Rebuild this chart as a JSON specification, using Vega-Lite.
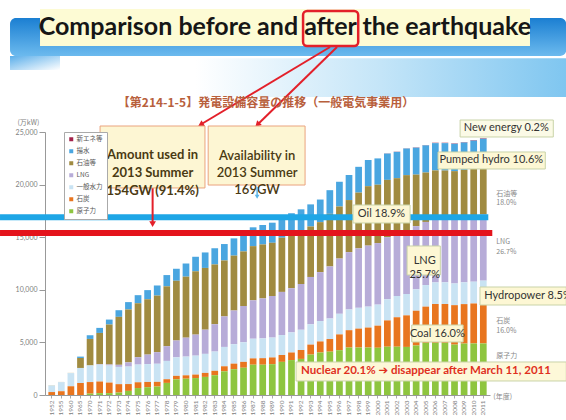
{
  "$schema": "https://vega.github.io/schema/vega-lite/v6.json",
  "width": 445,
  "height": 263,
  "autosize": {"type": "none"},
  "padding": {"left": 45, "top": 132, "right": 76, "bottom": 25},
  "background": "#ffffff",
  "config": {"view": {"stroke": null}, "font": "Lato"},
  "data": {"values": [{}]},
  "datasets": {
    "sources": [
      {"電源": "原子力", "積み順": 1},
      {"電源": "石炭", "積み順": 2},
      {"電源": "一般水力", "積み順": 3},
      {"電源": "LNG", "積み順": 4},
      {"電源": "石油等", "積み順": 5},
      {"電源": "揚水", "積み順": 6},
      {"電源": "新エネ等", "積み順": 7}
    ],
    "capacity": [
      {"年度": "1952", "原子力": 0, "石炭": 280, "一般水力": 620, "LNG": 0, "石油等": 20, "揚水": 0, "新エネ等": 0},
      {"年度": "1955", "原子力": 0, "石炭": 360, "一般水力": 860, "LNG": 0, "石油等": 20, "揚水": 0, "新エネ等": 0},
      {"年度": "1960", "原子力": 0, "石炭": 830, "一般水力": 1250, "LNG": 0, "石油等": 20, "揚水": 0, "新エネ等": 0},
      {"年度": "1965", "原子力": 0, "石炭": 1140, "一般水力": 1430, "LNG": 0, "石油等": 950, "揚水": 130, "新エネ等": 0},
      {"年度": "1970", "原子力": 130, "石炭": 1100, "一般水力": 1580, "LNG": 0, "石油等": 2520, "揚水": 350, "新エネ等": 0},
      {"年度": "1971", "原子力": 180, "石炭": 1100, "一般水力": 1600, "LNG": 50, "石油等": 2970, "揚水": 480, "新エネ等": 0},
      {"年度": "1972", "原子力": 180, "石炭": 1000, "一般水力": 1620, "LNG": 100, "石油等": 3800, "揚水": 470, "新エネ等": 0},
      {"年度": "1973", "原子力": 230, "石炭": 800, "一般水力": 1640, "LNG": 200, "石油等": 4560, "揚水": 630, "新エネ等": 0},
      {"年度": "1974", "原子力": 390, "石炭": 650, "一般水力": 1660, "LNG": 400, "石油等": 5030, "揚水": 700, "新エネ等": 0},
      {"年度": "1975", "原子力": 660, "石炭": 550, "一般水力": 1680, "LNG": 700, "石油等": 5130, "揚水": 770, "新エネ等": 0},
      {"年度": "1976", "原子力": 740, "石炭": 500, "一般水力": 1700, "LNG": 900, "石油等": 5260, "揚水": 870, "新エネ等": 0},
      {"年度": "1977", "原子力": 800, "石炭": 450, "一般水力": 1720, "LNG": 1100, "石油等": 5380, "揚水": 960, "新エネ等": 0},
      {"年度": "1978", "原子力": 1150, "石炭": 350, "一般水力": 1740, "LNG": 1400, "石油等": 5690, "揚水": 1070, "新エネ等": 0},
      {"年度": "1979", "原子力": 1490, "石炭": 330, "一般水力": 1760, "LNG": 1600, "石油等": 5680, "揚水": 1140, "新エネ等": 0},
      {"年度": "1980", "原子力": 1550, "石炭": 320, "一般水力": 1780, "LNG": 1800, "石油等": 5800, "揚水": 1250, "新エネ等": 0},
      {"年度": "1981", "原子力": 1610, "石炭": 330, "一般水力": 1800, "LNG": 2000, "石油等": 6020, "揚水": 1380, "新エネ等": 0},
      {"年度": "1982", "原子力": 1720, "石炭": 380, "一般水力": 1810, "LNG": 2300, "石油等": 5870, "揚水": 1470, "新エネ等": 0},
      {"年度": "1983", "原子力": 1880, "石炭": 420, "一般水力": 1830, "LNG": 2600, "石油等": 5680, "揚水": 1540, "新エネ等": 0},
      {"年度": "1984", "原子力": 2250, "石炭": 480, "一般水力": 1840, "LNG": 2900, "石油等": 5320, "揚水": 1560, "新エネ等": 0},
      {"年度": "1985", "原子力": 2450, "石炭": 530, "一般水力": 1850, "LNG": 3200, "石油等": 5220, "揚水": 1640, "新エネ等": 0},
      {"年度": "1986", "原子力": 2590, "石炭": 560, "一般水力": 1860, "LNG": 3450, "石油等": 5190, "揚水": 1720, "新エネ等": 0},
      {"年度": "1987", "原子力": 2880, "石炭": 600, "一般水力": 1870, "LNG": 3650, "石油等": 5150, "揚水": 1790, "新エネ等": 0},
      {"年度": "1988", "原子力": 2880, "石炭": 620, "一般水力": 1880, "LNG": 3800, "石油等": 5130, "揚水": 1850, "新エネ等": 0},
      {"年度": "1989", "原子力": 2930, "石炭": 640, "一般水力": 1890, "LNG": 3950, "石油等": 5060, "揚水": 1910, "新エネ等": 0},
      {"年度": "1990", "原子力": 3150, "石炭": 650, "一般水力": 1900, "LNG": 4100, "石油等": 5150, "揚水": 1950, "新エネ等": 0},
      {"年度": "1991", "原子力": 3320, "石炭": 720, "一般水力": 1910, "LNG": 4200, "石油等": 5130, "揚水": 2000, "新エネ等": 0},
      {"年度": "1992", "原子力": 3430, "石炭": 850, "一般水力": 1920, "LNG": 4350, "石油等": 5050, "揚水": 2050, "新エネ等": 0},
      {"年度": "1993", "原子力": 3840, "石炭": 950, "一般水力": 1930, "LNG": 4500, "石油等": 4800, "揚水": 2100, "新エネ等": 0},
      {"年度": "1994", "原子力": 4040, "石炭": 1050, "一般水力": 1940, "LNG": 4650, "石油等": 4750, "揚水": 2150, "新エネ等": 0},
      {"年度": "1995", "原子力": 4120, "石炭": 1200, "一般水力": 1950, "LNG": 4950, "石油等": 5000, "揚水": 2250, "新エネ等": 0},
      {"年度": "1996", "原子力": 4260, "石炭": 1500, "一般水力": 1960, "LNG": 5250, "石油等": 4950, "揚水": 2350, "新エネ等": 0},
      {"年度": "1997", "原子力": 4510, "石炭": 1650, "一般水力": 1970, "LNG": 5450, "石油等": 4950, "揚水": 2380, "新エネ等": 0},
      {"年度": "1998", "原子力": 4510, "石炭": 1800, "一般水力": 1980, "LNG": 5650, "石油等": 5300, "揚水": 2450, "新エネ等": 0},
      {"年度": "1999", "原子力": 4510, "石炭": 1900, "一般水力": 1990, "LNG": 5800, "石油等": 5650, "揚水": 2490, "新エネ等": 0},
      {"年度": "2000", "原子力": 4490, "石炭": 2100, "一般水力": 2000, "LNG": 5850, "石油等": 5550, "揚水": 2500, "新エネ等": 0},
      {"年度": "2001", "原子力": 4590, "石炭": 2500, "一般水力": 2010, "LNG": 5900, "石油等": 5450, "揚水": 2500, "新エネ等": 20},
      {"年度": "2002", "原子力": 4590, "石炭": 2800, "一般水力": 2020, "LNG": 5900, "石油等": 5300, "揚水": 2500, "新エネ等": 20},
      {"年度": "2003", "原子力": 4570, "石炭": 3000, "一般水力": 2030, "LNG": 5950, "石油等": 5350, "揚水": 2530, "新エネ等": 20},
      {"年度": "2004", "原子力": 4710, "石炭": 3300, "一般水力": 2040, "LNG": 6000, "石油等": 4900, "揚水": 2560, "新エネ等": 30},
      {"年度": "2005", "原子力": 4950, "石炭": 3450, "一般水力": 2050, "LNG": 6000, "石油等": 4700, "揚水": 2580, "新エネ等": 30},
      {"年度": "2006", "原子力": 4950, "石炭": 3700, "一般水力": 2050, "LNG": 6050, "石油等": 4600, "揚水": 2590, "新エネ等": 40},
      {"年度": "2007", "原子力": 4950, "石炭": 3700, "一般水力": 2060, "LNG": 6100, "石油等": 4530, "揚水": 2600, "新エネ等": 40},
      {"年度": "2008", "原子力": 4790, "石炭": 3750, "一般水力": 2060, "LNG": 6150, "石油等": 4530, "揚水": 2600, "新エネ等": 40},
      {"年度": "2009", "原子力": 4890, "石炭": 3750, "一般水力": 2070, "LNG": 6200, "石油等": 4490, "揚水": 2600, "新エネ等": 40},
      {"年度": "2010", "原子力": 4900, "石炭": 3800, "一般水力": 2070, "LNG": 6250, "石油等": 4570, "揚水": 2590, "新エネ等": 50},
      {"年度": "2011", "原子力": 4900, "石炭": 3900, "一般水力": 2070, "LNG": 6290, "石油等": 4610, "揚水": 2590, "新エネ等": 50}
    ]
  },
  "layer": [
    {
      "mark": {"type": "rect", "cornerRadius": 6, "xOffset": -41.7, "x2Offset": 83,
        "fill": {"gradient": "linear", "x1": 0, "y1": 0, "x2": 0, "y2": 1,
          "stops": [{"offset": 0, "color": "#1b7fd2"}, {"offset": 1, "color": "#6cbaee"}]}},
      "encoding": {
        "x": {"datum": "1952", "type": "ordinal", "bandPosition": 0.5},
        "x2": {"datum": "2011", "bandPosition": 0.5},
        "y": {"datum": 35838, "type": "quantitative"},
        "y2": {"datum": 32225}
      }
    },
    {
      "mark": {"type": "rect", "xOffset": -41.7, "x2Offset": 8.3,
        "fill": {"gradient": "linear", "x1": 0, "y1": 0, "x2": 1, "y2": 1,
          "stops": [{"offset": 0, "color": "#5aaeea"}, {"offset": 1, "color": "#ffffff"}]}},
      "encoding": {
        "x": {"datum": "1952", "type": "ordinal", "bandPosition": 0.5},
        "x2": {"datum": "1952", "bandPosition": 0.5},
        "y": {"datum": 32225, "type": "quantitative"},
        "y2": {"datum": 30894}
      }
    },
    {
      "mark": {"type": "rect", "x2Offset": 83,
        "fill": {"gradient": "linear", "x1": 0, "y1": 0, "x2": 1, "y2": 0,
          "stops": [{"offset": 0, "color": "#ffffff"}, {"offset": 0.5, "color": "#c4e5f8"}, {"offset": 1, "color": "#7fc6f0"}]}},
      "encoding": {
        "x": {"datum": "1981", "type": "ordinal", "bandPosition": 0.5},
        "x2": {"datum": "2011", "bandPosition": 0.5},
        "y": {"datum": 32000, "type": "quantitative"},
        "y2": {"datum": 28328}
      }
    },
    {
      "mark": {"type": "rect", "fill": "#fdfbd4", "xOffset": -11.7, "x2Offset": 46.7},
      "encoding": {
        "x": {"datum": "1952", "type": "ordinal", "bandPosition": 0.5},
        "x2": {"datum": "2011", "bandPosition": 0.5},
        "y": {"datum": 36693, "type": "quantitative"},
        "y2": {"datum": 33176}
      }
    },
    {
      "mark": {"type": "text", "text": "Comparison before and after the earthquake", "font": "Lato",
        "fontWeight": "bold", "fontSize": 25, "fill": "#161616", "align": "center", "baseline": "middle", "dx": 3},
      "encoding": {
        "x": {"datum": "1990", "type": "ordinal"},
        "y": {"datum": 35000, "type": "quantitative"}
      }
    },
    {
      "mark": {"type": "rect", "fillOpacity": 0, "stroke": "#e3202a", "strokeWidth": 2.5, "cornerRadius": 4,
        "xOffset": 2, "x2Offset": -10},
      "encoding": {
        "x": {"datum": "1992", "type": "ordinal", "bandPosition": 0.5},
        "x2": {"datum": "1999", "bandPosition": 0.5},
        "y": {"datum": 36503, "type": "quantitative"},
        "y2": {"datum": 33176}
      }
    },
    {
      "mark": {"type": "rule", "stroke": "#e3202a", "strokeWidth": 2, "xOffset": 0.2, "x2Offset": 6},
      "encoding": {
        "x": {"datum": "1995", "type": "ordinal", "bandPosition": 0.5},
        "x2": {"datum": "1981", "bandPosition": 0.5},
        "y": {"datum": 33081, "type": "quantitative"},
        "y2": {"datum": 25760}
      }
    },
    {
      "mark": {"type": "rule", "stroke": "#e3202a", "strokeWidth": 2, "xOffset": -2.4, "x2Offset": 5},
      "encoding": {
        "x": {"datum": "1996", "type": "ordinal", "bandPosition": 0.5},
        "x2": {"datum": "1987", "bandPosition": 0.5},
        "y": {"datum": 33081, "type": "quantitative"},
        "y2": {"datum": 25760}
      }
    },
    {
      "mark": {"type": "point", "shape": "triangle", "angle": 239, "filled": true, "size": 45, "color": "#e3202a", "opacity": 1, "xOffset": 6},
      "encoding": {
        "x": {"datum": "1981", "type": "ordinal"},
        "y": {"datum": 25760, "type": "quantitative"}
      }
    },
    {
      "mark": {"type": "point", "shape": "triangle", "angle": 226, "filled": true, "size": 45, "color": "#e3202a", "opacity": 1, "xOffset": 5},
      "encoding": {
        "x": {"datum": "1987", "type": "ordinal"},
        "y": {"datum": 25760, "type": "quantitative"}
      }
    },
    {
      "mark": {"type": "text", "text": "【第214-1-5】発電設備容量の推移（一般電気事業用）", "font": "Noto Sans CJK JP",
        "fontWeight": "bold", "fontSize": 12, "fill": "#b8603c", "align": "center", "baseline": "middle", "dx": 3.3},
      "encoding": {
        "x": {"datum": "1988", "type": "ordinal"},
        "y": {"datum": 27757, "type": "quantitative"}
      }
    },
    {
      "data": {"name": "capacity"},
      "transform": [
        {"fold": ["新エネ等", "揚水", "石油等", "LNG", "一般水力", "石炭", "原子力"], "as": ["電源", "万kW"]},
        {"lookup": "電源", "from": {"data": {"name": "sources"}, "key": "電源", "fields": ["積み順"]}}
      ],
      "mark": {"type": "bar"},
      "encoding": {
        "x": {
          "field": "年度", "type": "ordinal", "sort": null,
          "scale": {
            "domain": ["1952", "1955", "1960", "1965", "1970", "1971", "1972", "1973", "1974", "1975", "1976", "1977", "1978", "1979", "1980", "1981", "1982", "1983", "1984", "1985", "1986", "1987", "1988", "1989", "1990", "1991", "1992", "1993", "1994", "1995", "1996", "1997", "1998", "1999", "2000", "2001", "2002", "2003", "2004", "2005", "2006", "2007", "2008", "2009", "2010", "2011"],
            "paddingInner": 0.3, "paddingOuter": 0.35
          },
          "axis": {"title": null, "labelAngle": -90, "labelFontSize": 6.5, "labelColor": "#808080", "labelPadding": 2,
            "tickSize": 3, "tickColor": "#aaaaaa", "domainColor": "#999999", "labelFont": "Lato"}
        },
        "y": {
          "field": "万kW", "type": "quantitative", "stack": "zero",
          "scale": {"domain": [0, 25000], "nice": false},
          "axis": {"title": "(万kW)", "titleAngle": 0, "titleAlign": "left", "titleBaseline": "middle", "titleX": -28, "titleY": -10,
            "titleFont": "Noto Sans CJK JP", "titleFontSize": 7, "titleFontWeight": "normal", "titleColor": "#808080",
            "values": [0, 5000, 10000, 15000, 20000, 25000], "format": ",d", "labelFont": "Lato", "labelFontSize": 7,
            "labelColor": "#808080", "labelPadding": 2, "tickSize": 6, "tickColor": "#999999", "gridColor": "#999999",
            "gridWidth": 1, "domainColor": "#999999"}
        },
        "order": {"field": "積み順", "type": "quantitative", "sort": "ascending"},
        "color": {
          "field": "電源", "type": "nominal",
          "scale": {
            "domain": ["新エネ等", "揚水", "石油等", "LNG", "一般水力", "石炭", "原子力"],
            "range": ["#a3224a", "#4aa6e0", "#a08b41", "#b7acd8", "#c9e3f3", "#e8751f", "#8ec53f"]
          },
          "legend": {"title": null, "orient": "none", "legendX": 19, "legendY": 0, "direction": "vertical",
            "fillColor": "#ffffff", "strokeColor": "#aaaaaa", "padding": 4, "symbolType": "square", "symbolSize": 16,
            "symbolStrokeWidth": 0, "labelFont": "Noto Sans CJK JP", "labelFontSize": 6.5, "labelColor": "#555555",
            "rowPadding": 5, "labelOffset": 2,
            "values": ["新エネ等", "揚水", "石油等", "LNG", "一般水力", "石炭", "原子力"]}
        }
      }
    },
    {
      "mark": {"type": "rule", "stroke": "#1ea6e6", "strokeWidth": 6, "xOffset": -51.7, "x2Offset": 5},
      "encoding": {
        "x": {"datum": "1952", "type": "ordinal", "bandPosition": 0.5},
        "x2": {"datum": "2011", "bandPosition": 0.5},
        "y": {"datum": 16900, "type": "quantitative"}
      }
    },
    {
      "mark": {"type": "rule", "stroke": "#e4141c", "strokeWidth": 6, "xOffset": -51.7, "x2Offset": 9},
      "encoding": {
        "x": {"datum": "1952", "type": "ordinal", "bandPosition": 0.5},
        "x2": {"datum": "2011", "bandPosition": 0.5},
        "y": {"datum": 15400, "type": "quantitative"}
      }
    },
    {
      "mark": {"type": "rule", "stroke": "#e3202a", "strokeWidth": 2, "xOffset": 5},
      "encoding": {
        "x": {"datum": "1976", "type": "ordinal", "bandPosition": 0.5},
        "y": {"datum": 19680, "type": "quantitative"},
        "y2": {"datum": 16445}
      }
    },
    {
      "mark": {"type": "point", "shape": "triangle-down", "filled": true, "size": 45, "color": "#e3202a", "opacity": 1, "xOffset": 5},
      "encoding": {
        "x": {"datum": "1976", "type": "ordinal"},
        "y": {"datum": 16250, "type": "quantitative"}
      }
    },
    {
      "mark": {"type": "rect", "fill": "#fdf6d3", "stroke": "#eaa37e", "strokeWidth": 1, "xOffset": 10, "x2Offset": 9.4},
      "encoding": {
        "x": {"datum": "1970", "type": "ordinal", "bandPosition": 0.5},
        "x2": {"datum": "1981", "bandPosition": 0.5},
        "y": {"datum": 25570, "type": "quantitative"},
        "y2": {"datum": 19680}
      }
    },
    {
      "mark": {"type": "text", "text": ["Amount used in", "2013 Summer", "154GW (91.4%)"], "font": "Lato", "fontWeight": "bold",
        "fontSize": 13, "lineHeight": 18, "fill": "#4a3a12", "align": "center", "baseline": "middle", "dx": 5},
      "encoding": {
        "x": {"datum": "1976", "type": "ordinal"},
        "y": {"datum": 22800, "type": "quantitative"}
      }
    },
    {
      "mark": {"type": "rect", "fill": "#fdf6d3", "stroke": "#eaa37e", "strokeWidth": 1, "xOffset": 3, "x2Offset": 4},
      "encoding": {
        "x": {"datum": "1982", "type": "ordinal", "bandPosition": 0.5},
        "x2": {"datum": "1992", "bandPosition": 0.5},
        "y": {"datum": 25570, "type": "quantitative"},
        "y2": {"datum": 19960}
      }
    },
    {
      "mark": {"type": "text", "text": ["Availability in", "2013 Summer", "169GW"], "font": "Lato", "fontWeight": 600,
        "fontSize": 13, "lineHeight": 17, "fill": "#4a3a12", "align": "center", "baseline": "middle", "dx": 4},
      "encoding": {
        "x": {"datum": "1987", "type": "ordinal"},
        "y": {"datum": 22720, "type": "quantitative"}
      }
    },
    {
      "mark": {"type": "rule", "stroke": "#5ab4e8", "strokeWidth": 1.5, "xOffset": 4},
      "encoding": {
        "x": {"datum": "1987", "type": "ordinal", "bandPosition": 0.5},
        "y": {"datum": 19770, "type": "quantitative"},
        "y2": {"datum": 18960}
      }
    },
    {
      "mark": {"type": "point", "shape": "triangle-down", "filled": true, "size": 22, "color": "#5ab4e8", "opacity": 1, "xOffset": 4},
      "encoding": {
        "x": {"datum": "1987", "type": "ordinal"},
        "y": {"datum": 18850, "type": "quantitative"}
      }
    },
    {
      "mark": {"type": "rect", "fill": "#fdf7d4", "stroke": "#c9d3a8", "strokeWidth": 1, "xOffset": 4, "x2Offset": 3.5},
      "encoding": {
        "x": {"datum": "1997", "type": "ordinal", "bandPosition": 0.5},
        "x2": {"datum": "2003", "bandPosition": 0.5},
        "y": {"datum": 18060, "type": "quantitative"},
        "y2": {"datum": 16350}
      }
    },
    {
      "mark": {"type": "text", "text": "Oil 18.9%", "font": "Lato", "fontSize": 11, "fill": "#333333", "align": "center", "baseline": "middle", "dx": 3.7},
      "encoding": {
        "x": {"datum": "2000", "type": "ordinal"},
        "y": {"datum": 17205, "type": "quantitative"}
      }
    },
    {
      "mark": {"type": "rect", "fill": "#fdf7d4", "stroke": "#c9d3a8", "strokeWidth": 1, "xOffset": 0.5, "x2Offset": 5},
      "encoding": {
        "x": {"datum": "2003", "type": "ordinal", "bandPosition": 0.5},
        "x2": {"datum": "2006", "bandPosition": 0.5},
        "y": {"datum": 14164, "type": "quantitative"},
        "y2": {"datum": 11407}
      }
    },
    {
      "mark": {"type": "text", "text": ["LNG", "25.7%"], "font": "Lato", "fontSize": 11, "lineHeight": 14, "fill": "#333333", "align": "center", "baseline": "middle", "dx": -1},
      "encoding": {
        "x": {"datum": "2005", "type": "ordinal"},
        "y": {"datum": 12785, "type": "quantitative"}
      }
    },
    {
      "mark": {"type": "rect", "fill": "#fdf7d4", "stroke": "#c9d3a8", "strokeWidth": 1, "xOffset": -3.3, "x2Offset": 83},
      "encoding": {
        "x": {"datum": "2011", "type": "ordinal", "bandPosition": 0.5},
        "x2": {"datum": "2011", "bandPosition": 0.5},
        "y": {"datum": 10266, "type": "quantitative"},
        "y2": {"datum": 8555}
      }
    },
    {
      "mark": {"type": "text", "text": "Hydropower 8.5%", "font": "Lato", "fontSize": 11, "fill": "#333333", "align": "left", "baseline": "middle", "dx": 1},
      "encoding": {
        "x": {"datum": "2011", "type": "ordinal"},
        "y": {"datum": 9411, "type": "quantitative"}
      }
    },
    {
      "mark": {"type": "rect", "fill": "#fdf7d4", "stroke": "#c9d3a8", "strokeWidth": 1, "xOffset": -4.4, "x2Offset": -1},
      "encoding": {
        "x": {"datum": "2004", "type": "ordinal", "bandPosition": 0.5},
        "x2": {"datum": "2009", "bandPosition": 0.5},
        "y": {"datum": 6654, "type": "quantitative"},
        "y2": {"datum": 5038}
      }
    },
    {
      "mark": {"type": "text", "text": "Coal 16.0%", "font": "Lato", "fontSize": 11, "fill": "#333333", "align": "center", "baseline": "middle", "dx": 2},
      "encoding": {
        "x": {"datum": "2006", "type": "ordinal"},
        "y": {"datum": 5846, "type": "quantitative"}
      }
    },
    {
      "mark": {"type": "rect", "fill": "#fdf8d8", "stroke": "#c9d3a8", "strokeWidth": 1, "xOffset": -5, "x2Offset": 83},
      "encoding": {
        "x": {"datum": "1992", "type": "ordinal", "bandPosition": 0.5},
        "x2": {"datum": "2011", "bandPosition": 0.5},
        "y": {"datum": 3137, "type": "quantitative"},
        "y2": {"datum": 1331}
      }
    },
    {
      "mark": {"type": "text", "text": "Nuclear 20.1% ➔ disappear after March 11, 2011", "font": "Lato, DejaVu Sans", "fontWeight": "bold",
        "fontSize": 11.5, "fill": "#e0301e", "align": "left", "baseline": "middle", "dx": 0},
      "encoding": {
        "x": {"datum": "1992", "type": "ordinal"},
        "y": {"datum": 2281, "type": "quantitative"}
      }
    },
    {
      "mark": {"type": "rect", "fill": "#fbfae6", "stroke": "#c9d3a8", "strokeWidth": 1, "xOffset": -4, "x2Offset": 70},
      "encoding": {
        "x": {"datum": "2009", "type": "ordinal", "bandPosition": 0.5},
        "x2": {"datum": "2011", "bandPosition": 0.5},
        "y": {"datum": 26140, "type": "quantitative"},
        "y2": {"datum": 24525}
      }
    },
    {
      "mark": {"type": "text", "text": "New energy 0.2%", "font": "Lato", "fontSize": 11, "fill": "#333333", "align": "center", "baseline": "middle", "dx": 23},
      "encoding": {
        "x": {"datum": "2011", "type": "ordinal"},
        "y": {"datum": 25333, "type": "quantitative"}
      }
    },
    {
      "mark": {"type": "rect", "fill": "#fdf7d4", "stroke": "#c9d3a8", "strokeWidth": 1, "xOffset": 2.7, "x2Offset": 62},
      "encoding": {
        "x": {"datum": "2006", "type": "ordinal", "bandPosition": 0.5},
        "x2": {"datum": "2011", "bandPosition": 0.5},
        "y": {"datum": 23100, "type": "quantitative"},
        "y2": {"datum": 21484}
      }
    },
    {
      "mark": {"type": "text", "text": "Pumped hydro 10.6%", "font": "Lato", "fontSize": 11, "fill": "#333333", "align": "center", "baseline": "middle", "dx": 8},
      "encoding": {
        "x": {"datum": "2011", "type": "ordinal"},
        "y": {"datum": 22292, "type": "quantitative"}
      }
    },
    {
      "mark": {"type": "text", "text": ["石油等", "18.0%"], "font": "Noto Sans CJK JP", "fontSize": 7, "lineHeight": 9.5, "fill": "#888888", "align": "left", "baseline": "middle", "dx": 13},
      "encoding": {
        "x": {"datum": "2011", "type": "ordinal"},
        "y": {"datum": 19107, "type": "quantitative"}
      }
    },
    {
      "mark": {"type": "text", "text": ["LNG", "26.7%"], "font": "Noto Sans CJK JP", "fontSize": 7, "lineHeight": 9.5, "fill": "#888888", "align": "left", "baseline": "middle", "dx": 13},
      "encoding": {
        "x": {"datum": "2011", "type": "ordinal"},
        "y": {"datum": 14497, "type": "quantitative"}
      }
    },
    {
      "mark": {"type": "text", "text": ["石炭", "16.0%"], "font": "Noto Sans CJK JP", "fontSize": 7, "lineHeight": 9.5, "fill": "#888888", "align": "left", "baseline": "middle", "dx": 13},
      "encoding": {
        "x": {"datum": "2011", "type": "ordinal"},
        "y": {"datum": 6987, "type": "quantitative"}
      }
    },
    {
      "mark": {"type": "text", "text": "原子力", "font": "Noto Sans CJK JP", "fontSize": 7, "fill": "#888888", "align": "left", "baseline": "middle", "dx": 13},
      "encoding": {
        "x": {"datum": "2011", "type": "ordinal"},
        "y": {"datum": 3707, "type": "quantitative"}
      }
    },
    {
      "mark": {"type": "text", "text": "(年度)", "font": "Noto Sans CJK JP", "fontSize": 7, "fill": "#888888", "align": "left", "baseline": "middle", "dx": 10},
      "encoding": {
        "x": {"datum": "2011", "type": "ordinal"},
        "y": {"datum": -190, "type": "quantitative"}
      }
    }
  ]
}
